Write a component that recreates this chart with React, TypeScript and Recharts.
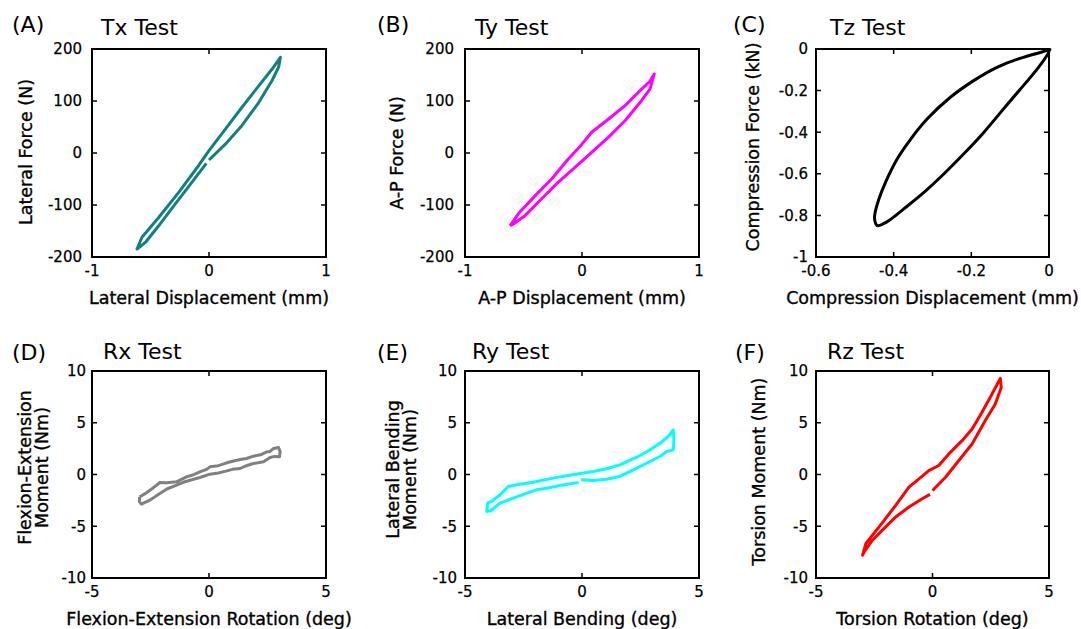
import React from 'react';
import { LineChart, Line, XAxis, YAxis, Label } from 'recharts';

const FONT = '"DejaVu Sans", Verdana, sans-serif';

// (A) Tx test: lateral displacement (mm) / lateral force (N)
const txDisplacement = [0.0, 0.14, 0.282, 0.425, 0.538, 0.595, 0.61, 0.538, 0.425, 0.282, 0.14, 0.0, -0.088, -0.259, -0.43, -0.573, -0.615, -0.544, -0.43, -0.288, -0.145, -0.023];
const txForce = [-13.5, 17, 53, 97, 139, 165, 184, 161, 129, 88, 46, 4.5, -24, -75.6, -124, -162, -184.6, -172, -140, -98, -56, -20];

// (B) Ty test: A-P displacement (mm) / A-P force (N)
const tyDisplacement = [-0.615, -0.544, -0.4, -0.259, -0.117, 0.0, 0.083, 0.225, 0.368, 0.51, 0.581, 0.618, 0.581, 0.51, 0.368, 0.225, 0.083, -0.06, -0.202, -0.345, -0.487, -0.587, -0.615];
const tyForce = [-140, -117, -82, -50, -11.5, 17, 40, 65, 91, 123, 138, 152, 123, 101, 62, 30, 1.3, -27.6, -56, -88, -120.5, -136.5, -140];

// (C) Tz test: compression displacement (mm) / compression force (kN)
const tzDisplacement = [0, -0.006, -0.066, -0.134, -0.194, -0.254, -0.314, -0.356, -0.391, -0.421, -0.438, -0.449, -0.446, -0.438, -0.412, -0.374, -0.322, -0.271, -0.22, -0.168, -0.117, -0.066, -0.027, -0.003, 0];
const tzForce = [-0.002, -0.008, -0.04, -0.088, -0.152, -0.232, -0.337, -0.433, -0.529, -0.641, -0.721, -0.801, -0.841, -0.849, -0.825, -0.769, -0.689, -0.601, -0.505, -0.401, -0.288, -0.176, -0.088, -0.024, -0.005];

// (D) Rx test: flexion-extension rotation (deg) / moment (Nm)
const rxRotation = [-2.96, -2.67, -2.45, -2.24, -2.1, -1.8, -1.39, -1.2, -0.96, -0.7, -0.39, -0.1, 0.04, 0.4, 0.76, 1.05, 1.33, 1.6, 1.9, 2.2, 2.47, 2.6, 2.76, 2.97, 3.04, 3.01, 2.8, 2.61, 2.33, 1.9, 1.6, 1.33, 1.0, 0.76, 0.4, 0.04, -0.39, -0.81, -1.1, -1.39, -1.8, -2.1, -2.53, -2.89, -2.98, -2.96];
const rxMoment = [-2.16, -1.77, -1.4, -1.03, -0.77, -0.8, -0.71, -0.5, -0.23, -0.05, 0.26, 0.5, 0.74, 0.85, 1.13, 1.3, 1.45, 1.55, 1.77, 1.9, 2.19, 2.2, 2.52, 2.61, 2.19, 1.71, 1.75, 1.65, 1.23, 1.06, 0.85, 0.58, 0.5, 0.35, 0.15, 0.03, -0.29, -0.55, -0.75, -1.03, -1.4, -1.84, -2.48, -2.87, -2.6, -2.16];

// (E) Ry test: lateral bending (deg) / moment (Nm)
const ryRotation = [-0.04, 0.48, 1.05, 1.62, 2.19, 2.76, 3.33, 3.62, 3.9, 3.93, 3.9, 3.69, 3.33, 2.91, 2.34, 1.62, 1.05, 0.48, 0, -0.66, -1.23, -1.94, -2.36, -2.79, -3.15, -3.5, -3.86, -4.03, -4.07, -3.9, -3.5, -2.93, -2.36, -1.94, -1.51, -0.94, -0.37, -0.14];
const ryMoment = [-0.5, -0.58, -0.45, -0.19, 0.45, 1.09, 1.74, 2.22, 2.38, 3.34, 4.31, 3.67, 3.02, 2.38, 1.67, 0.93, 0.55, 0.29, 0.13, -0.13, -0.35, -0.68, -0.84, -1.0, -1.16, -1.96, -2.6, -2.77, -3.57, -3.5, -2.77, -2.28, -1.8, -1.48, -1.32, -1.06, -0.84, -0.8];

// (F) Rz test: torsion rotation (deg) / torsion moment (Nm)
const rzRotation = [-0.11, -0.44, -1.01, -1.58, -2.01, -2.58, -2.93, -3.0, -2.86, -2.29, -1.58, -1.01, -0.58, -0.16, 0.27, 0.7, 1.27, 1.7, 2.12, 2.55, 2.91, 2.95, 2.69, 2.26, 1.7, 1.13, 0.56, 0.0];
const rzMoment = [-1.92, -2.34, -3.14, -4.1, -5.06, -6.35, -7.47, -7.79, -6.67, -5.06, -2.98, -1.22, -0.42, 0.38, 0.87, 1.99, 3.27, 4.39, 5.99, 7.76, 9.29, 8.4, 6.79, 5.19, 2.95, 1.35, -0.26, -1.54];

// tick values
const displacementTicks = [-1, 0, 1];
const forceTicks = [-200, -100, 0, 100, 200];
const tzDisplacementTicks = [-0.6, -0.4, -0.2, 0];
const tzForceTicks = [-1, -0.8, -0.6, -0.4, -0.2, 0];
const rotationTicks = [-5, 0, 5];
const momentTicks = [-10, -5, 0, 5, 10];

const zip = (xs: number[], ys: number[]) => xs.map((x, i) => ({ x, y: ys[i] }));

type Pt = { x: number; y: number | null };

type PanelDef = {
  letter: string; title: string;
  letterX: number; titleX: number; letterY: number; titleY: number;
  left: number; top: number; w: number; h: number; mr: number; mb: number;
  data: Pt[]; color: string; curve: 'linear' | 'natural';
  xTicks: number[]; yTicks: number[];
  xLabel: string; yLabel: string[];
  yLabelGap: number; yLabelShift: number; tickGap: number;
};

const panels: PanelDef[] = [
  { letter: '(A)', title: 'Tx Test', letterX: 12, titleX: 101, letterY: 32, titleY: 35, left: 92, top: 49, w: 234, h: 208, mr: 60, mb: 52, data: zip(txDisplacement, txForce), color: '#137f7f', curve: 'linear', xTicks: displacementTicks, yTicks: forceTicks, xLabel: 'Lateral Displacement (mm)', yLabel: ['Lateral Force (N)'], yLabelGap: 60, yLabelShift: -1, tickGap: 10 },
  { letter: '(B)', title: 'Ty Test', letterX: 377, titleX: 475, letterY: 32, titleY: 35, left: 465, top: 49, w: 234, h: 208, mr: 60, mb: 52, data: zip(tyDisplacement, tyForce), color: '#ff00ff', curve: 'linear', xTicks: displacementTicks, yTicks: forceTicks, xLabel: 'A-P Displacement (mm)', yLabel: ['A-P Force (N)'], yLabelGap: 62, yLabelShift: 0, tickGap: 11 },
  { letter: '(C)', title: 'Tz Test', letterX: 733, titleX: 830, letterY: 32, titleY: 35, left: 816, top: 49, w: 233, h: 208, mr: 32, mb: 52, data: zip(tzDisplacement, tzForce), color: '#000000', curve: 'natural', xTicks: tzDisplacementTicks, yTicks: tzForceTicks, xLabel: 'Compression Displacement (mm)', yLabel: ['Compression Force (kN)'], yLabelGap: 57, yLabelShift: -6, tickGap: 8 },
  { letter: '(D)', title: 'Rx Test', letterX: 12, titleX: 103, letterY: 360, titleY: 359, left: 92, top: 371, w: 234, h: 207, mr: 60, mb: 51, data: zip(rxRotation, rxMoment), color: '#808080', curve: 'linear', xTicks: rotationTicks, yTicks: momentTicks, xLabel: 'Flexion-Extension Rotation (deg)', yLabel: ['Flexion-Extension', 'Moment (Nm)'], yLabelGap: 44, yLabelShift: -7, tickGap: 6 },
  { letter: '(E)', title: 'Ry Test', letterX: 377, titleX: 472, letterY: 360, titleY: 359, left: 465, top: 371, w: 234, h: 207, mr: 60, mb: 51, data: zip(ryRotation, ryMoment), color: '#00ffff', curve: 'linear', xTicks: rotationTicks, yTicks: momentTicks, xLabel: 'Lateral Bending (deg)', yLabel: ['Lateral Bending', 'Moment (Nm)'], yLabelGap: 49, yLabelShift: -5, tickGap: 8 },
  { letter: '(F)', title: 'Rz Test', letterX: 735, titleX: 827, letterY: 360, titleY: 359, left: 816, top: 371, w: 233, h: 207, mr: 32, mb: 51, data: zip(rzRotation, rzMoment), color: '#ff0000', curve: 'linear', xTicks: rotationTicks, yTicks: momentTicks, xLabel: 'Torsion Rotation (deg)', yLabel: ['Torsion Moment (Nm)'], yLabelGap: 51, yLabelShift: -3, tickGap: 8 },
];

const ML = 90; // room left of the box for tick labels and the y title
const MT = 49; // room above the box for the panel letter and title
const TICK = 5; // inward tick length, px

const tickFont = { fill: '#000', fontSize: 15, fontFamily: FONT, stroke: '#000', strokeWidth: 0.25 };
const labelText = { fontSize: 17.5, fontFamily: FONT, fill: '#000', stroke: '#000', strokeWidth: 0.35 };

// box outline through the four domain corners
const frameOf = (xd: number[], yd: number[]): Pt[] => [
  { x: xd[0], y: yd[0] }, { x: xd[1], y: yd[0] }, { x: xd[1], y: yd[1] }, { x: xd[0], y: yd[1] }, { x: xd[0], y: yd[0] },
];

// short inward tick marks on all four sides, broken apart with null points
const tickMarksOf = (p: PanelDef, xd: number[], yd: number[]): Pt[] => {
  const dy = (TICK * (yd[1] - yd[0])) / p.h;
  const dx = (TICK * (xd[1] - xd[0])) / p.w;
  const out: Pt[] = [];
  p.xTicks.forEach((t) => {
    out.push({ x: t, y: yd[0] }, { x: t, y: yd[0] + dy }, { x: t, y: null });
    out.push({ x: t, y: yd[1] }, { x: t, y: yd[1] - dy }, { x: t, y: null });
  });
  p.yTicks.forEach((t) => {
    out.push({ x: xd[0], y: t }, { x: xd[0] + dx, y: t }, { x: xd[0] + dx, y: null });
    out.push({ x: xd[1], y: t }, { x: xd[1] - dx, y: t }, { x: xd[1] - dx, y: null });
  });
  return out;
};

const Panel = ({ p }: { p: PanelDef }) => {
  const xDomain = [p.xTicks[0], p.xTicks[p.xTicks.length - 1]];
  const yDomain = [p.yTicks[0], p.yTicks[p.yTicks.length - 1]];
  const chartLeft = p.left - ML;
  const chartTop = p.top - MT;
  const bottom = MT + p.h;

  const xTick = (props: any) => {
    const cx = props.payload?.coordinate ?? props.x;
    return (
      <text x={cx} y={bottom + 19} textAnchor="middle" {...tickFont}>{props.payload.value}</text>
    );
  };

  const yTick = (props: any) => {
    const cy = props.payload?.coordinate ?? props.y;
    return (
      <text x={ML - p.tickGap} y={cy} dy={5.3} textAnchor="end" {...tickFont}>{props.payload.value}</text>
    );
  };

  // panel letter, title and y title
  const decorations = () => {
    const cy = MT + p.h / 2 + p.yLabelShift;
    const n = p.yLabel.length;
    return (
      <g>
        <text x={p.letterX - chartLeft} y={p.letterY - chartTop} fontFamily={FONT} fontSize={22} fill="#000">{p.letter}</text>
        <text x={p.titleX - chartLeft} y={p.titleY - chartTop} fontFamily={FONT} fontSize={22} fill="#000">{p.title}</text>
        {p.yLabel.map((line, i) => {
          const bx = ML - p.yLabelGap - (n - 1 - i) * 17;
          return (
            <text key={i} x={bx} y={cy} transform={`rotate(-90 ${bx} ${cy})`} textAnchor="middle" {...labelText}>
              {line}
            </text>
          );
        })}
      </g>
    );
  };

  return (
    <div style={{ position: 'absolute', left: chartLeft, top: chartTop }}>
      <LineChart width={ML + p.w + p.mr} height={MT + p.h + p.mb} margin={{ top: MT, right: p.mr, bottom: 0, left: 0 }}>
        <XAxis dataKey="x" type="number" domain={xDomain} ticks={p.xTicks} interval={0} height={p.mb} tick={xTick} axisLine={false} tickLine={false}>
          <Label value={p.xLabel} position="insideBottom" offset={p.mb - 47} {...labelText} />
        </XAxis>
        <YAxis dataKey="y" type="number" domain={yDomain} ticks={p.yTicks} interval={0} width={ML} tick={yTick} axisLine={false} tickLine={false}>
          <Label content={decorations} />
        </YAxis>
        <Line data={tickMarksOf(p, xDomain, yDomain)} dataKey="y" stroke="#000" strokeWidth={1.5} dot={false} activeDot={false} connectNulls={false} isAnimationActive={false} />
        <Line data={frameOf(xDomain, yDomain)} dataKey="y" stroke="#000" strokeWidth={2} strokeLinecap="square" dot={false} activeDot={false} isAnimationActive={false} />
        <Line data={p.data} type={p.curve} dataKey="y" stroke={p.color} strokeWidth={3} strokeLinejoin="round" dot={false} activeDot={false} isAnimationActive={false} />
      </LineChart>
    </div>
  );
};

export default function App() {
  return (
    <div style={{ position: 'absolute', left: 0, top: 0, width: 1081, height: 629, background: '#fff' }}>
      {panels.map((p) => (
        <Panel key={p.letter} p={p} />
      ))}
    </div>
  );
}
